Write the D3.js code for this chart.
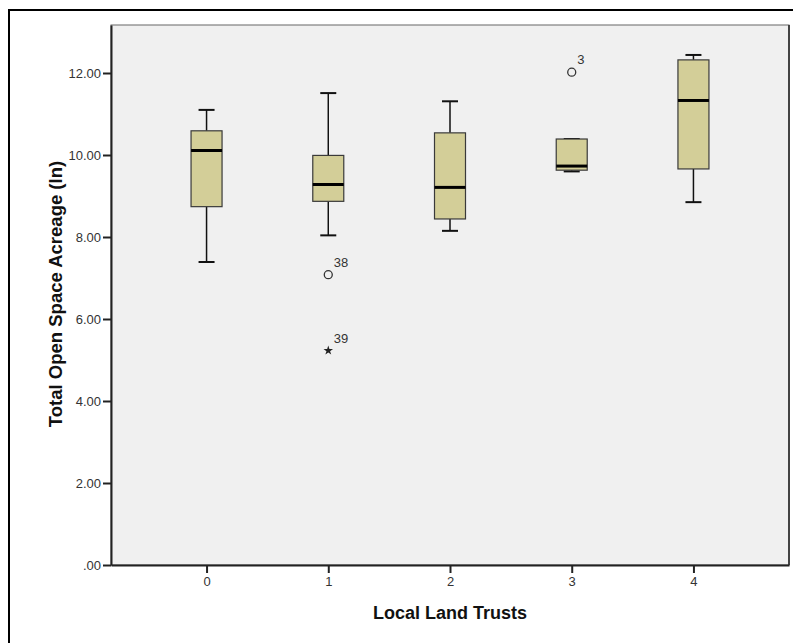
<!DOCTYPE html>
<html><head><meta charset="utf-8">
<script src="https://cdn.jsdelivr.net/npm/d3@7"></script>
<style>
html,body{margin:0;padding:0;background:#fff;}
svg{display:block;}
text{font-family:Arial,"Liberation Sans",sans-serif;}
</style></head>
<body>
<script>
const categories = ["0","1","2","3","4"];
const whiskerLow  = [7.39, 8.04, 8.15, 9.60, 8.85];
const q1          = [8.74, 8.87, 8.44, 9.63, 9.66];
const median      = [10.11, 9.28, 9.21, 9.73, 11.33];
const q3          = [10.59, 9.99, 10.54, 10.39, 12.32];
const whiskerHigh = [11.10, 11.51, 11.31, 10.39, 12.44];
const outlierCat   = ["1", "1", "3"];
const outlierValue = [7.08, 5.23, 12.02];
const outlierLabel = ["38", "39", "3"];
const outlierType  = ["circle", "star", "circle"];
const yTicks = [0, 2, 4, 6, 8, 10, 12];

const W = 793, H = 643;
const svg = d3.select("body").append("svg").attr("width", W).attr("height", H);

// outer frame
svg.append("rect").attr("x", 9).attr("y", 10).attr("width", 800).attr("height", 700)
  .attr("fill", "none").attr("stroke", "#000").attr("stroke-width", 2);

const L = 111, T = 25, R = 789, B = 565;
const x = d3.scalePoint().domain(categories).range([L, R]).padding(0.785);
const y = d3.scaleLinear().domain([0, 540/41]).range([B, T]);

// plot background
svg.append("rect").attr("x", L).attr("y", T).attr("width", R - L).attr("height", B - T)
  .attr("fill", "#f0f0f0").attr("stroke", "#666").attr("stroke-width", 1);
svg.append("line").attr("x1", R).attr("x2", R).attr("y1", T).attr("y2", B)
  .attr("stroke", "#444").attr("stroke-width", 2);

// axes
const yAxis = d3.axisLeft(y).tickValues(yTicks).tickSizeInner(8).tickSizeOuter(0)
  .tickFormat(d => d === 0 ? ".00" : d.toFixed(2));
const gy = svg.append("g").attr("transform", `translate(${L},0)`).call(yAxis);
const xAxis = d3.axisBottom(x).tickSizeInner(8).tickSizeOuter(0);
const gx = svg.append("g").attr("transform", `translate(0,${B})`).call(xAxis);
for (const ax of [gy, gx]) {
  ax.attr("font-size", 13).attr("font-family", "Arial, 'Liberation Sans', sans-serif");
  ax.select(".domain").attr("stroke", "#222").attr("stroke-width", 2);
  ax.selectAll(".tick line").attr("stroke", "#222").attr("stroke-width", 2);
  ax.selectAll(".tick text").attr("fill", "#333").attr("font-size", 13);
}
gy.selectAll(".tick text").attr("x", -10).attr("dy", "0.36em");
gx.selectAll(".tick text").attr("y", 12);

// boxes
const boxW = 31, capW = 16;
const data = categories.map((c, i) => ({c, lo: whiskerLow[i], q1: q1[i], med: median[i], q3: q3[i], hi: whiskerHigh[i]}));
const g = svg.append("g");
data.forEach(d => {
  const cx = x(d.c);
  g.append("line").attr("x1", cx).attr("x2", cx).attr("y1", y(d.q3)).attr("y2", y(d.hi))
    .attr("stroke", "#111").attr("stroke-width", 1.5);
  g.append("line").attr("x1", cx).attr("x2", cx).attr("y1", y(d.q1)).attr("y2", y(d.lo))
    .attr("stroke", "#111").attr("stroke-width", 1.5);
  g.append("line").attr("x1", cx - capW/2).attr("x2", cx + capW/2).attr("y1", y(d.hi)).attr("y2", y(d.hi))
    .attr("stroke", "#111").attr("stroke-width", 2);
  g.append("line").attr("x1", cx - capW/2).attr("x2", cx + capW/2).attr("y1", y(d.lo)).attr("y2", y(d.lo))
    .attr("stroke", "#111").attr("stroke-width", 2);
  g.append("rect").attr("x", cx - boxW/2).attr("y", y(d.q3)).attr("width", boxW)
    .attr("height", y(d.q1) - y(d.q3)).attr("fill", "#d3ce98").attr("stroke", "#3a3a3a").attr("stroke-width", 1.2);
  g.append("line").attr("x1", cx - boxW/2).attr("x2", cx + boxW/2).attr("y1", y(d.med)).attr("y2", y(d.med))
    .attr("stroke", "#000").attr("stroke-width", 3);
});

// outliers
outlierValue.forEach((v, i) => {
  const cx = x(outlierCat[i]), cy = y(v);
  if (outlierType[i] === "circle") {
    g.append("circle").attr("cx", cx).attr("cy", cy).attr("r", 4)
      .attr("fill", "none").attr("stroke", "#333").attr("stroke-width", 1.3);
  } else {
    g.append("path").attr("d", d3.symbol(d3.symbolStar, 28)())
      .attr("transform", `translate(${cx},${cy})`).attr("fill", "#222");
  }
  g.append("text").attr("x", cx + 5.5).attr("y", cy - 8).text(outlierLabel[i])
    .attr("fill", "#333").attr("font-size", 13);
});

// axis titles
svg.append("text").attr("x", x("2")).attr("y", 619).attr("text-anchor", "middle")
  .attr("font-size", 18).attr("font-weight", "bold").attr("fill", "#111")
  .text("Local Land Trusts");
svg.append("text").attr("transform", `translate(62,294) rotate(-90)`)
  .attr("text-anchor", "middle")
  .attr("font-size", 18.5).attr("font-weight", "bold").attr("fill", "#111")
  .text("Total Open Space Acreage (ln)");
</script>
</body></html>
